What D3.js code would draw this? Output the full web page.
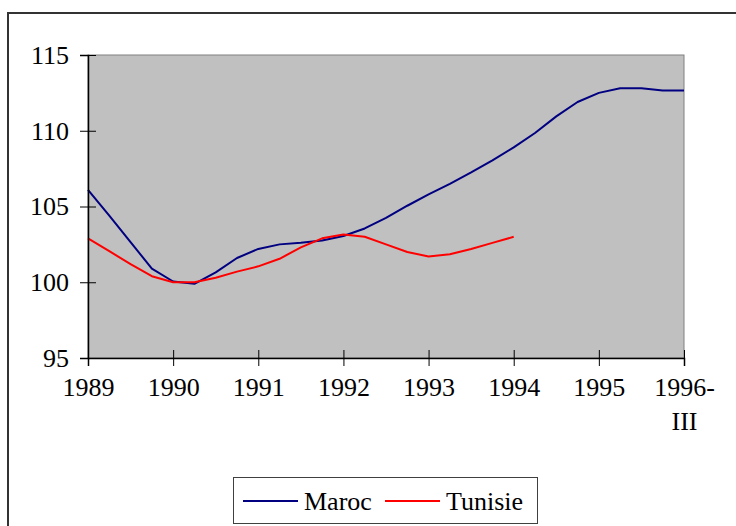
<!DOCTYPE html>
<html><head><meta charset="utf-8">
<script src="https://cdn.jsdelivr.net/npm/d3@7"></script>
<style>html,body{margin:0;padding:0;background:#fff;}svg{display:block;}</style>
</head><body>
<svg id="chart" width="736" height="526"></svg>
<script>
// Data (quarterly, 1989-I .. 1996)
const periods = d3.range(0, 29); // quarter index from 1989
const tickLabels = ["1989","1990","1991","1992","1993","1994","1995","1996-III"];
const maroc = [106.1,104.4,102.65,100.9,100.05,99.9,100.65,101.6,102.2,102.5,102.6,102.75,103.05,103.55,104.25,105.05,105.8,106.5,107.25,108.05,108.9,109.85,110.95,111.9,112.5,112.8,112.8,112.65,112.65];
const tunisie = [102.9,102.05,101.2,100.4,100.0,100.0,100.3,100.7,101.05,101.55,102.3,102.9,103.15,103.0,102.5,102.0,101.7,101.85,102.2,102.6,103.0];
const yTicks = [95,100,105,110,115];
const seriesNames = ["Maroc","Tunisie"];
const colors = ["#000080","#FF0000"];

const svg = d3.select("#chart");
const font = '"Liberation Serif"';
const L = 88, R = 684, T = 55, B = 358;

// outer border (clipped on right & bottom)
svg.append("rect").attr("x",8).attr("y",13).attr("width",740).attr("height",530)
  .attr("fill","#fff").attr("stroke","#333").attr("stroke-width",2);

const x = d3.scaleLinear().domain([0,28]).range([L,R]);
const y = d3.scaleLinear().domain([95,115]).range([B,T]);

// plot area
svg.append("rect").attr("x",L).attr("y",T).attr("width",R-L).attr("height",B-T)
  .attr("fill","#C0C0C0").attr("stroke","#808080").attr("stroke-width",1);

// lines
const line = d3.line().x((d,i)=>x(i)).y(d=>y(d));
[maroc, tunisie].forEach((s,k)=>{
  svg.append("path").datum(s).attr("d",line).attr("fill","none")
    .attr("stroke",colors[k]).attr("stroke-width",2).attr("stroke-linejoin","round");
});

// y axis
const ya = svg.append("g").attr("transform",`translate(${L},0)`)
  .call(d3.axisLeft(y).tickValues(yTicks).tickSize(8).tickPadding(11).tickFormat(d3.format("d")));
ya.attr("font-family",null).attr("font-size",null);
ya.select(".domain").attr("stroke","#000").attr("stroke-width",1.5);
ya.selectAll(".tick line").attr("x2",-8).attr("x1",8).attr("stroke","#000");
ya.selectAll(".tick text").style("font-family",font).style("font-size","26px").attr("fill","#000");

// x axis
const xTickVals = tickLabels.map((d,i)=>i*4);
const xa = svg.append("g").attr("transform",`translate(0,${B})`)
  .call(d3.axisBottom(x).tickValues(xTickVals).tickSize(8).tickPadding(12).tickFormat((d,i)=>tickLabels[i]));
xa.attr("font-family",null).attr("font-size",null);
xa.select(".domain").attr("stroke","#000").attr("stroke-width",1.5);
xa.selectAll(".tick line").attr("y1",-8).attr("y2",8).attr("stroke","#000");
xa.selectAll(".tick text").style("font-family",font).style("font-size","26px").attr("fill","#000")
  .each(function(d,i){
    const t = d3.select(this); const lab = tickLabels[i];
    const idx = lab.indexOf("-");
    if(idx>=0){
      t.text(null);
      t.append("tspan").attr("x",0).text(lab.slice(0,idx+1));
      t.append("tspan").attr("x",0).attr("dy","1.3em").text(lab.slice(idx+1));
    }
  });

// legend
const lg = svg.append("g");
lg.append("rect").attr("x",233.5).attr("y",477.5).attr("width",304).attr("height",46)
  .attr("fill","#fff").attr("stroke","#404040").attr("stroke-width",1);
const items = [{x:243},{x:385}];
seriesNames.forEach((n,k)=>{
  const g = lg.append("g").attr("transform",`translate(${items[k].x},501)`);
  g.append("line").attr("x1",0).attr("x2",55).attr("y1",0).attr("y2",0)
    .attr("stroke",colors[k]).attr("stroke-width",2);
  g.append("text").attr("x",61).attr("y",9).style("font-family",font).style("font-size","26px")
    .attr("fill","#000").text(n);
});
</script>
</body></html>
